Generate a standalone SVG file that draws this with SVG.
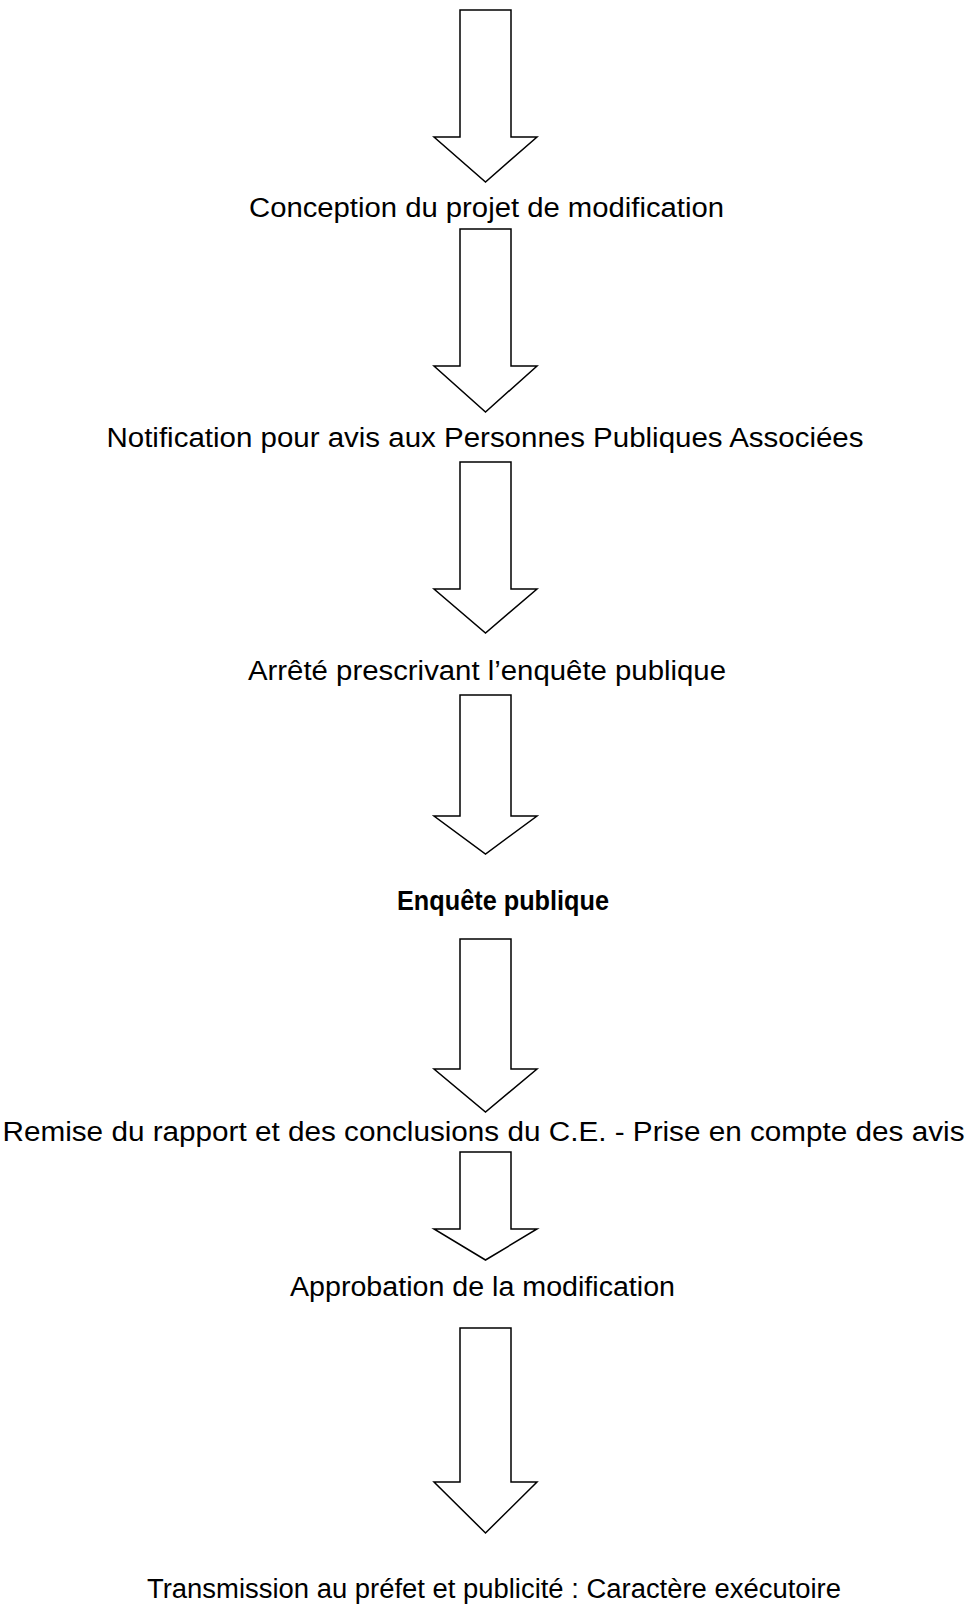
<svg xmlns="http://www.w3.org/2000/svg" width="966" height="1608" viewBox="0 0 966 1608">
<style>
.bg{fill:#ffffff}
.arrow{fill:#ffffff;stroke:#000000;stroke-width:1.5;stroke-linejoin:miter}
.lbl{font-family:"Liberation Sans",Arial,sans-serif;font-size:27px;fill:#000000;text-anchor:middle}
.bold{font-weight:bold;font-size:27px}
</style>
<rect class="bg" x="0" y="0" width="966" height="1608"/>
<g id="connectors">
<polygon id="a1" class="arrow" points="460,10 511,10 511,137 537,137 485.5,182 434,137 460,137"/>
<polygon id="a2" class="arrow" points="460,229 511,229 511,366 537,366 485.5,412 434,366 460,366"/>
<polygon id="a3" class="arrow" points="460,462 511,462 511,589 537,589 485.5,633 434,589 460,589"/>
<polygon id="a4" class="arrow" points="460,695 511,695 511,816 537,816 485.5,854 434,816 460,816"/>
<polygon id="a5" class="arrow" points="460,939 511,939 511,1069 537,1069 485.5,1112 434,1069 460,1069"/>
<polygon id="a6" class="arrow" points="460,1152 511,1152 511,1229 537,1229 485.5,1260 434,1229 460,1229"/>
<polygon id="a7" class="arrow" points="460,1328 511,1328 511,1482 537,1482 485.5,1533 434,1482 460,1482"/>
</g>
<g id="n1"><text class="lbl" x="486.5" y="217" textLength="475" lengthAdjust="spacingAndGlyphs">Conception du projet de modification</text></g>
<g id="n2"><text class="lbl" x="485" y="447" textLength="757" lengthAdjust="spacingAndGlyphs">Notification pour avis aux Personnes Publiques Associées</text></g>
<g id="n3"><text class="lbl" x="487" y="680" textLength="478" lengthAdjust="spacingAndGlyphs">Arrêté prescrivant l’enquête publique</text></g>
<g id="n4"><text class="lbl bold" x="503" y="910" textLength="212" lengthAdjust="spacingAndGlyphs">Enquête publique</text></g>
<g id="n5"><text class="lbl" x="483.5" y="1141" textLength="962" lengthAdjust="spacingAndGlyphs">Remise du rapport et des conclusions du C.E. - Prise en compte des avis</text></g>
<g id="n6"><text class="lbl" x="482.5" y="1296" textLength="385" lengthAdjust="spacingAndGlyphs">Approbation de la modification</text></g>
<g id="n7"><text class="lbl" x="494" y="1598" textLength="694" lengthAdjust="spacingAndGlyphs">Transmission au préfet et publicité : Caractère exécutoire</text></g>
</svg>
